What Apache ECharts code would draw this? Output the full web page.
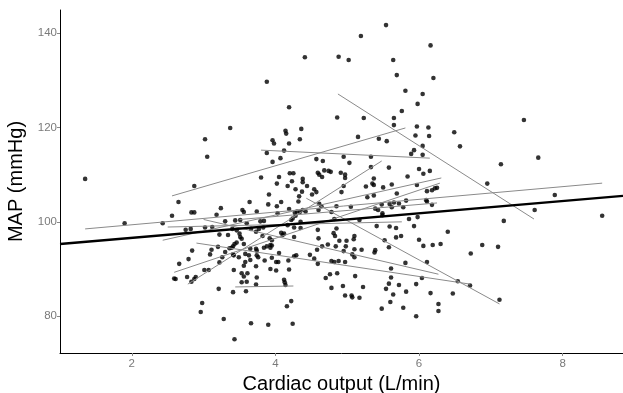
<!DOCTYPE html>
<html>
<head>
<meta charset="utf-8">
<script src="https://cdn.jsdelivr.net/npm/echarts@6/dist/echarts.min.js"></script>
<style>
  html, body { margin: 0; padding: 0; background: #fff; }
  #chart { width: 623px; height: 393px; }
</style>
</head>
<body>
<div id="chart"></div>
<script>
// cardiac output (L/min) per measurement
const cardiacOutput = [
  5.54,5.19,6.16,4.41,4.88,5.02,5.64,5.69,6.20,3.88,
  5.81,6.05,5.98,4.19,5.76,4.86,5.23,5.65,7.46,5.65,
  5.97,6.13,3.37,4.36,4.14,4.15,6.49,5.95,6.14,5.15,
  3.02,3.96,4.34,5.44,5.55,3.98,4.19,6.05,6.57,4.12,
  5.93,3.88,5.89,6.05,3.05,4.57,4.95,5.33,7.66,4.07,
  4.66,3.96,5.03,7.14,5.33,5.58,6.00,6.15,6.06,5.84,
  4.68,4.74,4.77,4.59,4.61,4.65,4.20,4.25,4.91,4.97,
  4.97,3.80,4.05,4.38,5.37,1.35,6.95,2.87,2.65,3.64,
  3.91,4.02,4.17,4.23,4.38,4.28,4.44,4.37,4.33,4.54,
  4.57,4.51,3.90,4.02,4.08,4.32,3.24,3.54,3.56,3.74,
  2.83,2.87,3.18,4.19,4.27,4.30,4.34,4.38,4.42,
  4.61,4.64,4.03,4.60,
  5.35,5.37,5.26,5.50,5.62,5.97,6.25,6.22,6.18,6.11,
  4.95,4.92,5.69,5.28,5.37,6.10,6.11,5.82,5.48,5.59,
  5.65,5.72,5.62,5.78,4.85,5.05,5.39,5.43,6.18,5.49,4.78,
  2.56,3.30,3.44,3.51,3.79,3.84,3.60,4.22,4.24,4.28,
  4.17,4.35,2.75,2.82,3.02,3.12,3.40,3.46,3.66,3.73,
  3.77,3.83,4.26,4.35,4.08,4.12,4.10,4.59,3.22,3.34,
  3.50,3.51,3.53,3.46,3.82,3.92,4.26,4.60,3.95,3.93,
  3.95,3.93,3.43,3.41,3.39,3.36,3.56,3.65,3.73,3.74,
  3.84,3.88,4.05,4.58,4.65,3.11,2.84,3.09,3.26,3.41,
  3.42,3.49,3.58,3.63,3.74,3.76,3.85,3.58,3.65,3.95,
  4.18,4.26,4.29,4.48,4.54,4.59,2.79,2.66,3.22,4.01,
  4.04,3.56,3.73,3.42,3.01,3.07,3.93,4.01,4.19,2.77,
  2.59,2.61,2.89,2.87,2.83,3.53,3.61,3.56,3.74,3.60,
  3.53,3.73,4.12,4.13,4.14,3.21,3.41,3.59,4.70,2.98,
  2.96,4.22,4.16,3.28,3.66,3.90,4.24,3.43,3.20,3.30,
  1.90,2.43,5.49,4.82,5.17,5.86,5.98,4.85,5.41,5.59,
  5.68,5.93,6.40,4.81,4.83,5.10,5.09,5.68,5.75,4.89,
  4.99,5.52,6.00,4.73,4.84,4.98,6.06,6.19,6.30,5.58,
  5.10,5.20,5.39,5.38,4.95,6.72,5.07,5.10,4.78,4.82,
  4.88,4.97,5.81,6.11,5.61,4.76,4.86,5.11,5.61,6.04,
  6.54,6.71,5.58,5.72,5.96,4.78,4.94,5.22,5.54,5.82,
  5.64,6.16,6.47,4.97,5.06,5.07,5.17,5.60,6.27,5.48,
  5.78,6.27,5.96,7.18,7.89,7.61,8.55,6.88,7.10,7.12
];

// mean arterial pressure (mmHg), same order
const mapValues = [
  141.7,139.4,137.4,134.9,135.0,134.3,134.3,131.1,130.5,129.7,
  127.8,127.1,125.0,124.3,123.5,122.1,122.0,122.0,121.6,120.5,
  120.2,120.0,119.9,119.7,119.3,118.7,119.0,118.3,118.2,118.0,
  117.5,117.3,117.5,117.6,117.1,116.6,116.6,116.1,116.0,115.1,
  115.2,114.6,114.4,114.2,113.8,113.3,113.8,113.8,113.6,113.5,
  112.9,112.7,112.5,112.2,111.6,111.5,111.2,110.8,110.2,109.6,
  110.9,110.8,110.6,110.4,110.0,109.5,110.3,110.3,110.4,110.0,
  109.3,109.4,109.5,109.1,109.2,109.1,108.1,107.6,104.2,104.2,
  105.8,108.1,107.6,108.6,108.4,106.9,107.6,106.4,105.4,106.9,
  106.3,105.8,103.7,103.3,104.2,104.3,102.9,102.5,102.1,102.2,
  102.0,102.0,101.5,102.7,101.9,102.2,102.1,102.5,102.2,
  103.8,103.3,101.8,102.5,
  108.1,107.8,107.5,107.3,107.9,107.8,107.2,107.1,106.7,106.5,
  107.6,106.3,106.0,105.2,105.6,104.6,104.3,104.5,103.7,103.8,
  104.1,103.9,103.1,103.1,103.3,103.2,102.8,102.5,103.6,101.8,102.1,
  101.3,100.1,100.3,100.4,100.1,100.2,99.7,100.4,100.7,101.3,
  99.3,100.0,98.3,98.5,98.8,98.9,98.5,98.2,98.5,97.9,
  98.5,98.8,98.8,98.7,97.7,97.5,97.2,98.3,97.3,97.2,
  97.5,96.8,96.4,95.6,97.0,96.5,96.8,96.5,96.1,95.1,
  95.0,94.5,95.3,94.8,94.5,94.4,95.3,94.3,94.3,93.9,
  94.5,94.8,93.4,94.1,94.8,94.1,93.9,93.1,92.5,93.1,
  92.9,92.5,93.2,92.9,92.9,92.5,91.8,91.5,91.9,92.4,
  91.8,92.7,92.9,93.0,92.2,91.1,92.1,91.1,91.4,91.5,
  91.5,90.7,90.6,89.8,89.8,89.8,90.0,89.7,89.9,88.3,
  88.0,87.9,88.3,87.9,87.3,89.1,89.1,88.4,88.2,87.3,
  87.2,86.7,87.7,87.2,86.6,85.8,85.1,85.3,88.1,82.8,
  80.9,83.2,82.1,79.4,78.5,78.2,78.4,75.1,94.7,93.6,
  99.7,99.7,101.4,100.6,100.4,100.6,101.0,98.6,99.1,99.0,
  98.7,99.1,97.9,97.6,97.0,97.0,96.3,96.7,97.0,96.0,
  96.0,96.1,96.2,95.2,94.8,94.8,94.9,95.1,95.3,94.6,
  94.2,94.1,94.0,93.5,93.8,93.3,93.1,92.5,91.7,91.5,
  91.7,91.5,91.3,91.5,90.1,88.9,89.1,88.5,88.2,88.1,
  87.4,86.5,86.9,86.6,86.8,86.0,86.4,86.2,85.8,85.2,
  84.6,84.9,84.8,84.4,84.4,84.0,83.9,83.0,82.6,81.6,
  81.8,81.1,80.0,100.2,105.7,102.5,101.3,95.1,94.7,83.5
];

// per-subject fitted lines: [xStart, yStart, xEnd, yEnd]
const subjectFits = [
  [2.56, 105.5, 5.81, 119.9],
  [4.87, 127.1, 7.60, 100.6],
  [3.80, 115.2, 6.15, 113.5],
  [1.35, 98.5, 8.55, 108.2],
  [2.43, 96.1, 6.31, 109.3],
  [2.78, 86.8, 5.48, 112.9],
  [3.50, 100.5, 6.25, 104.0],
  [4.43, 105.0, 7.12, 82.6],
  [3.00, 100.5, 6.27, 88.9],
  [2.90, 95.5, 6.71, 86.8],
  [2.50, 98.9, 5.76, 100.0],
  [3.44, 86.2, 4.25, 86.4],
  [2.59, 89.3, 6.29, 108.2]
];

// overall fit
const overallIntercept = 94.0;
const overallSlope = 1.3;

const xTicks = [2, 4, 6, 8];
const yTicks = [80, 100, 120, 140];
const xRange = [1.0, 8.84];
const yRange = [72.2, 144.9];

const chart = echarts.init(document.getElementById('chart'));

const points = [];
const n = Math.min(cardiacOutput.length, mapValues.length);
for (let i = 0; i < n; i++) points.push([cardiacOutput[i], mapValues[i]]);

const fitSeries = subjectFits.map(f => ({
  type: 'line',
  data: [[f[0], f[1]], [f[2], f[3]]],
  symbol: 'none',
  silent: true,
  z: 3,
  lineStyle: { color: '#8a8a8a', width: 1 }
}));

const overall = {
  type: 'line',
  data: [
    [xRange[0], overallIntercept + overallSlope * xRange[0]],
    [xRange[1], overallIntercept + overallSlope * xRange[1]]
  ],
  symbol: 'none',
  silent: true,
  z: 4,
  lineStyle: { color: '#000', width: 2.3 }
};

const axisText = { color: '#7a7a7a', fontSize: 11.5, fontFamily: 'Liberation Sans' };
const titleText = { color: '#000', fontSize: 20, fontFamily: 'Liberation Sans' };

const option = {
  animation: false,
  grid: { left: 60, right: 0, top: 10, bottom: 40, outerBoundsMode: 'none' },
  xAxis: {
    type: 'value',
    min: xRange[0],
    max: xRange[1],
    name: 'Cardiac output (L/min)',
    nameLocation: 'middle',
    nameGap: 19,
    nameTextStyle: titleText,
    axisLine: { show: true, onZero: false, lineStyle: { color: '#000', width: 1 } },
    axisTick: { show: true, customValues: xTicks, length: 3, lineStyle: { color: '#888' } },
    axisLabel: Object.assign({ customValues: xTicks, margin: 5 }, axisText),
    splitLine: { show: false }
  },
  yAxis: {
    type: 'value',
    min: yRange[0],
    max: yRange[1],
    name: 'MAP (mmHg)',
    nameLocation: 'middle',
    nameGap: 29,
    nameTextStyle: titleText,
    axisLine: { show: true, onZero: false, lineStyle: { color: '#000', width: 1 } },
    axisTick: { show: true, customValues: yTicks, length: 3, lineStyle: { color: '#888' } },
    axisLabel: Object.assign({ customValues: yTicks, margin: 3 }, axisText),
    splitLine: { show: false }
  },
  series: [
    {
      type: 'scatter',
      data: points,
      symbolSize: 4.6,
      z: 2,
      itemStyle: { color: '#000' }
    },
    ...fitSeries,
    overall
  ]
};

chart.setOption(option);
</script>
</body>
</html>
